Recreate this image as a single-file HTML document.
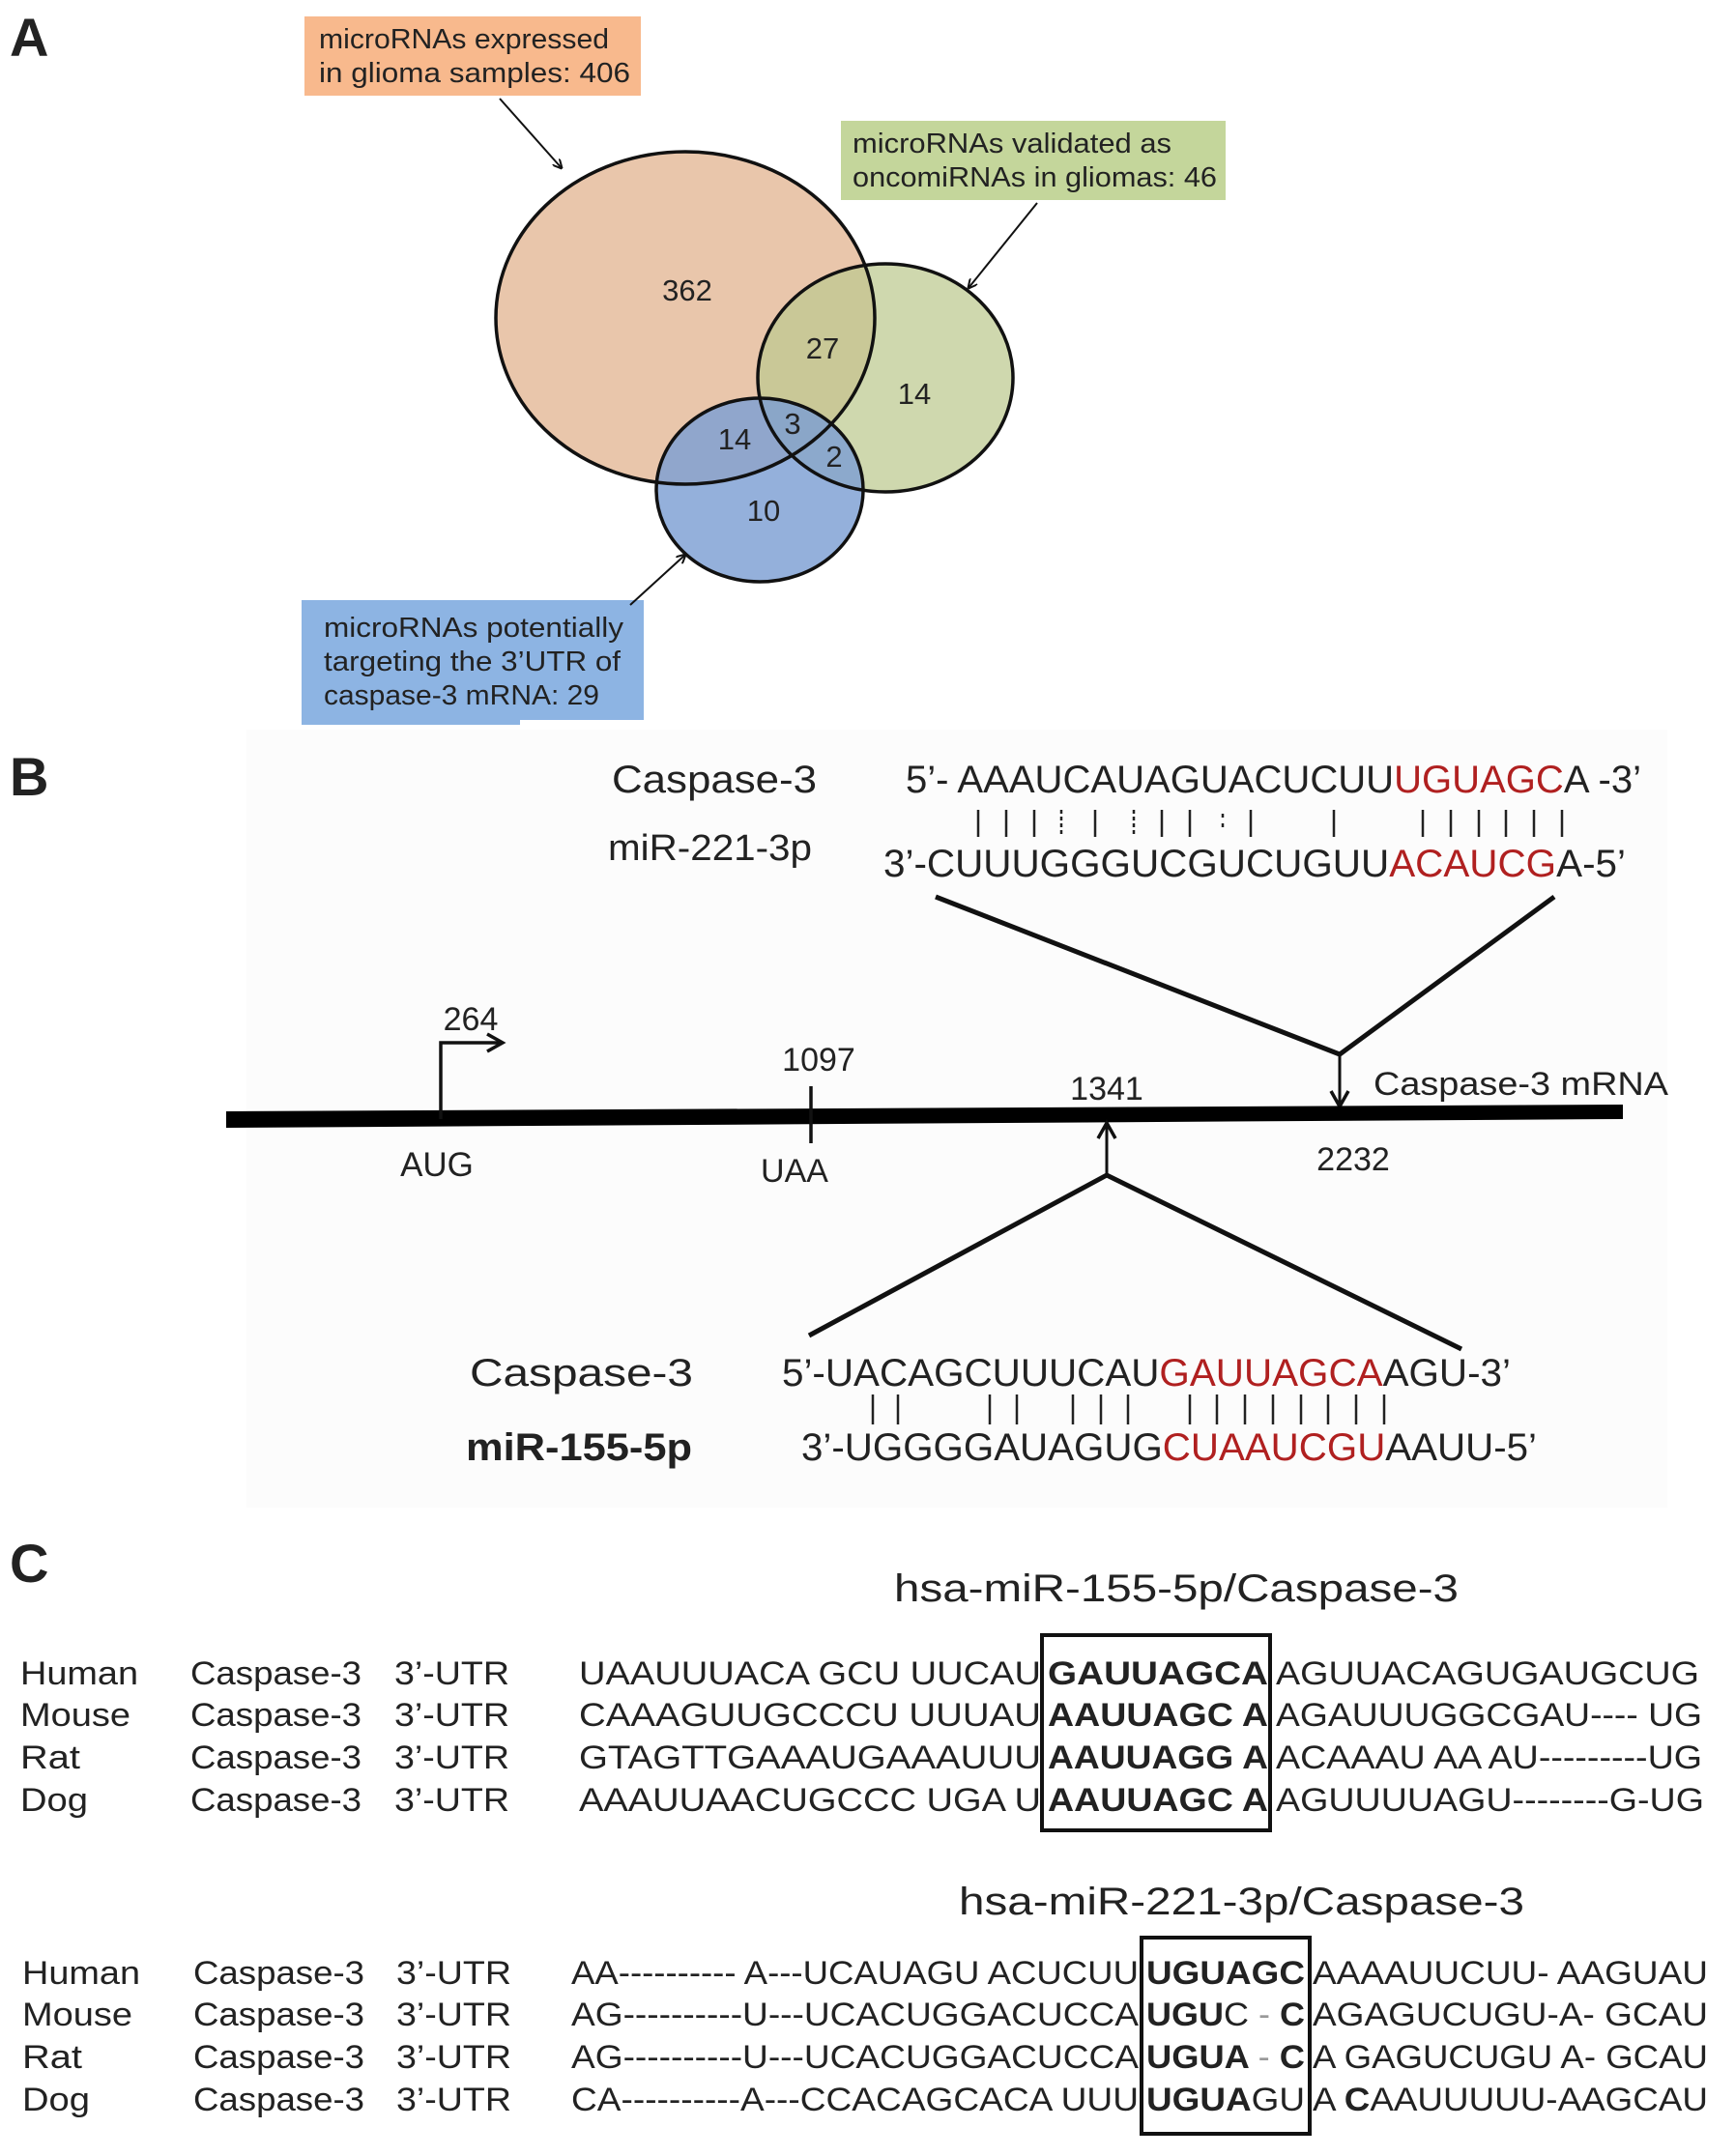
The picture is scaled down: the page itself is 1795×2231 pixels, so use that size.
<!DOCTYPE html>
<html><head><meta charset="utf-8"><style>
html,body{margin:0;padding:0;background:#fff}
svg{display:block}
text{font-family:"Liberation Sans",sans-serif;fill:#222}
.n{font-size:31px}
.b{font-weight:bold}
.r{fill:#b02020}
</style></head><body>
<svg width="1795" height="2231" viewBox="0 0 1795 2231" xmlns="http://www.w3.org/2000/svg">
<defs>
<marker id="ah" markerWidth="10" markerHeight="10" refX="9" refY="5" orient="auto" markerUnits="userSpaceOnUse"><path d="M0,0 L10,5 L0,10" fill="none" stroke="#111" stroke-width="2"/></marker>
<marker id="ah2" markerWidth="22" markerHeight="22" refX="18" refY="11" orient="auto" markerUnits="userSpaceOnUse"><path d="M2,2 L18,11 L2,20" fill="none" stroke="#111" stroke-width="3.5"/></marker>
</defs>
<!-- Panel A -->
<text x="10" y="58" class="b" font-size="56">A</text>
<rect x="315" y="17" width="348" height="82" fill="#f8b98d"/>
<text x="330" y="50" font-size="29" textLength="300" lengthAdjust="spacingAndGlyphs">microRNAs expressed</text>
<text x="330" y="85" font-size="29" textLength="322" lengthAdjust="spacingAndGlyphs">in glioma samples: 406</text>
<line x1="517" y1="102" x2="581" y2="174" stroke="#111" stroke-width="2" marker-end="url(#ah)"/>
<rect x="870" y="125" width="398" height="82" fill="#c4d69b"/>
<text x="882" y="158" font-size="29" textLength="330" lengthAdjust="spacingAndGlyphs">microRNAs validated as</text>
<text x="882" y="193" font-size="29" textLength="377" lengthAdjust="spacingAndGlyphs">oncomiRNAs in gliomas: 46</text>
<line x1="1073" y1="210" x2="1002" y2="298" stroke="#111" stroke-width="2" marker-end="url(#ah)"/>
<ellipse cx="709" cy="329" rx="196" ry="172" fill="#e9c6ab" stroke="none"/>
<ellipse cx="916" cy="391" rx="132" ry="118" fill="#bcc98f" fill-opacity="0.72" stroke="none"/>
<ellipse cx="786" cy="507" rx="107" ry="95" fill="#7d9fd3" fill-opacity="0.82" stroke="none"/>
<ellipse cx="709" cy="329" rx="196" ry="172" fill="none" stroke="#111" stroke-width="3.5"/>
<ellipse cx="916" cy="391" rx="132" ry="118" fill="none" stroke="#111" stroke-width="3.5"/>
<ellipse cx="786" cy="507" rx="107" ry="95" fill="none" stroke="#111" stroke-width="3.5"/>
<g class="n" text-anchor="middle">
<text x="711" y="311">362</text>
<text x="851" y="371">27</text>
<text x="946" y="418">14</text>
<text x="820" y="449">3</text>
<text x="760" y="465">14</text>
<text x="863" y="483">2</text>
<text x="790" y="539">10</text>
</g>
<rect x="312" y="621" width="354" height="124" fill="#8db4e3"/>
<rect x="312" y="740" width="226" height="10" fill="#8db4e3"/>
<text x="335" y="659" font-size="29" textLength="310" lengthAdjust="spacingAndGlyphs">microRNAs potentially</text>
<text x="335" y="694" font-size="29" textLength="307" lengthAdjust="spacingAndGlyphs">targeting the 3’UTR of</text>
<text x="335" y="729" font-size="29" textLength="285" lengthAdjust="spacingAndGlyphs">caspase-3 mRNA: 29</text>
<line x1="652" y1="626" x2="709" y2="574" stroke="#111" stroke-width="2" marker-end="url(#ah)"/>
<!-- Panel B -->
<rect x="255" y="755" width="1470" height="805" fill="#fcfcfc"/>
<text x="10" y="823" class="b" font-size="56">B</text>
<text x="633" y="820" font-size="40" textLength="212" lengthAdjust="spacingAndGlyphs">Caspase-3</text>
<text x="937" y="820" font-size="40" textLength="761" lengthAdjust="spacingAndGlyphs">5’- AAAUCAUAGUACUCUU<tspan class="r">UGUAGC</tspan>A -3’</text>
<g stroke="#222" stroke-width="2.5">
<line x1="1012" y1="838" x2="1012" y2="866"/><line x1="1041" y1="838" x2="1041" y2="866"/><line x1="1070" y1="838" x2="1070" y2="866"/>
<line x1="1098" y1="838" x2="1098" y2="866" stroke-dasharray="4,3"/><line x1="1133" y1="838" x2="1133" y2="866"/>
<line x1="1173" y1="838" x2="1173" y2="866" stroke-dasharray="4,3"/><line x1="1202" y1="838" x2="1202" y2="866"/><line x1="1231" y1="838" x2="1231" y2="866"/>
<line x1="1265" y1="842" x2="1265" y2="862" stroke-dasharray="4,6"/><line x1="1294" y1="838" x2="1294" y2="866"/>
<line x1="1380" y1="838" x2="1380" y2="866"/><line x1="1472" y1="838" x2="1472" y2="866"/><line x1="1501" y1="838" x2="1501" y2="866"/>
<line x1="1530" y1="838" x2="1530" y2="866"/><line x1="1558" y1="838" x2="1558" y2="866"/><line x1="1587" y1="838" x2="1587" y2="866"/><line x1="1616" y1="838" x2="1616" y2="866"/>
</g>
<text x="629" y="890" font-size="38" textLength="211" lengthAdjust="spacingAndGlyphs">miR-221-3p</text>
<text x="914" y="907" font-size="40" textLength="768" lengthAdjust="spacingAndGlyphs">3’-CUUUGGGUCGUCUGUU<tspan class="r">ACAUCG</tspan>A-5’</text>
<polyline points="968,928 1386,1091 1608,928" fill="none" stroke="#111" stroke-width="5"/>
<line x1="1386" y1="1091" x2="1386" y2="1145" stroke="#111" stroke-width="3" marker-end="url(#ah2)"/>
<polygon points="234,1150 1679,1143 1679,1158 234,1167" fill="#000"/>
<text x="487" y="1066" font-size="34" text-anchor="middle">264</text>
<polyline points="456,1158 456,1079 520,1079" fill="none" stroke="#111" stroke-width="3.5" marker-end="url(#ah2)"/>
<text x="452" y="1217" font-size="35" text-anchor="middle">AUG</text>
<text x="847" y="1108" font-size="34" text-anchor="middle">1097</text>
<line x1="839" y1="1124" x2="839" y2="1183" stroke="#111" stroke-width="3.5"/>
<text x="822" y="1223" font-size="34" text-anchor="middle">UAA</text>
<text x="1145" y="1138" font-size="34" text-anchor="middle">1341</text>
<polyline points="837,1382 1145,1216 1512,1396" fill="none" stroke="#111" stroke-width="5"/>
<line x1="1145" y1="1216" x2="1145" y2="1162" stroke="#111" stroke-width="3" marker-end="url(#ah2)"/>
<text x="1421" y="1133" font-size="34" textLength="305" lengthAdjust="spacingAndGlyphs">Caspase-3  mRNA</text>
<text x="1400" y="1211" font-size="34" text-anchor="middle">2232</text>
<text x="486" y="1434" font-size="40" textLength="231" lengthAdjust="spacingAndGlyphs">Caspase-3</text>
<text x="809" y="1434" font-size="40" textLength="754" lengthAdjust="spacingAndGlyphs">5’-UACAGCUUUCAU<tspan class="r">GAUUAGCA</tspan>AGU-3’</text>
<g stroke="#222" stroke-width="2.5">
<line x1="903" y1="1443" x2="903" y2="1474"/><line x1="929" y1="1443" x2="929" y2="1474"/><line x1="1024" y1="1443" x2="1024" y2="1474"/><line x1="1052" y1="1443" x2="1052" y2="1474"/>
<line x1="1110" y1="1443" x2="1110" y2="1474"/><line x1="1139" y1="1443" x2="1139" y2="1474"/><line x1="1167" y1="1443" x2="1167" y2="1474"/>
<line x1="1231" y1="1443" x2="1231" y2="1474"/><line x1="1259" y1="1443" x2="1259" y2="1474"/><line x1="1288" y1="1443" x2="1288" y2="1474"/><line x1="1317" y1="1443" x2="1317" y2="1474"/>
<line x1="1346" y1="1443" x2="1346" y2="1474"/><line x1="1374" y1="1443" x2="1374" y2="1474"/><line x1="1403" y1="1443" x2="1403" y2="1474"/><line x1="1432" y1="1443" x2="1432" y2="1474"/>
</g>
<text x="482" y="1511" font-size="40" class="b" textLength="234" lengthAdjust="spacingAndGlyphs">miR-155-5p</text>
<text x="829" y="1511" font-size="40" textLength="761" lengthAdjust="spacingAndGlyphs">3’-UGGGGAUAGUG<tspan class="r">CUAAUCGU</tspan>AAUU-5’</text>
<!-- Panel C -->
<text x="10" y="1637" class="b" font-size="56">C</text>
<text x="925" y="1657" font-size="40" textLength="584" lengthAdjust="spacingAndGlyphs">hsa-miR-155-5p/Caspase-3</text>
<g font-size="34" transform="translate(0,5)">
<text x="21" y="1738" textLength="122" lengthAdjust="spacingAndGlyphs">Human</text>
<text x="21" y="1781" textLength="114" lengthAdjust="spacingAndGlyphs">Mouse</text>
<text x="21" y="1825" textLength="62" lengthAdjust="spacingAndGlyphs">Rat</text>
<text x="21" y="1869" textLength="70" lengthAdjust="spacingAndGlyphs">Dog</text>
<text x="197" y="1738" textLength="177" lengthAdjust="spacingAndGlyphs">Caspase-3</text>
<text x="197" y="1781" textLength="177" lengthAdjust="spacingAndGlyphs">Caspase-3</text>
<text x="197" y="1825" textLength="177" lengthAdjust="spacingAndGlyphs">Caspase-3</text>
<text x="197" y="1869" textLength="177" lengthAdjust="spacingAndGlyphs">Caspase-3</text>
<text x="408" y="1738" textLength="119" lengthAdjust="spacingAndGlyphs">3’-UTR</text>
<text x="408" y="1781" textLength="119" lengthAdjust="spacingAndGlyphs">3’-UTR</text>
<text x="408" y="1825" textLength="119" lengthAdjust="spacingAndGlyphs">3’-UTR</text>
<text x="408" y="1869" textLength="119" lengthAdjust="spacingAndGlyphs">3’-UTR</text>
<text x="599" y="1738" textLength="478" lengthAdjust="spacingAndGlyphs">UAAUUUACA GCU UUCAU</text>
<text x="599" y="1781" textLength="478" lengthAdjust="spacingAndGlyphs">CAAAGUUGCCCU UUUAU</text>
<text x="599" y="1825" textLength="478" lengthAdjust="spacingAndGlyphs">GTAGTTGAAAUGAAAUUU</text>
<text x="599" y="1869" textLength="478" lengthAdjust="spacingAndGlyphs">AAAUUAACUGCCC UGA U</text>
<text x="1084" y="1738" class="b" textLength="228" lengthAdjust="spacingAndGlyphs">GAUUAGCA</text>
<text x="1084" y="1781" class="b" textLength="228" lengthAdjust="spacingAndGlyphs">AAUUAGC A</text>
<text x="1084" y="1825" class="b" textLength="228" lengthAdjust="spacingAndGlyphs">AAUUAGG A</text>
<text x="1084" y="1869" class="b" textLength="228" lengthAdjust="spacingAndGlyphs">AAUUAGC A</text>
<text x="1320" y="1738" textLength="438" lengthAdjust="spacingAndGlyphs">AGUUACAGUGAUGCUG</text>
<text x="1320" y="1781" textLength="441" lengthAdjust="spacingAndGlyphs">AGAUUUGGCGAU---- UG</text>
<text x="1320" y="1825" textLength="441" lengthAdjust="spacingAndGlyphs">ACAAAU AA AU---------UG</text>
<text x="1320" y="1869" textLength="443" lengthAdjust="spacingAndGlyphs">AGUUUUAGU--------G-UG</text>
</g>
<rect x="1078" y="1692" width="236" height="202" fill="none" stroke="#111" stroke-width="4"/>
<text x="992" y="1981" font-size="40" textLength="585" lengthAdjust="spacingAndGlyphs">hsa-miR-221-3p/Caspase-3</text>
<g font-size="34" transform="translate(0,5)">
<text x="23" y="2048" textLength="122" lengthAdjust="spacingAndGlyphs">Human</text>
<text x="23" y="2091" textLength="114" lengthAdjust="spacingAndGlyphs">Mouse</text>
<text x="23" y="2135" textLength="62" lengthAdjust="spacingAndGlyphs">Rat</text>
<text x="23" y="2179" textLength="70" lengthAdjust="spacingAndGlyphs">Dog</text>
<text x="200" y="2048" textLength="177" lengthAdjust="spacingAndGlyphs">Caspase-3</text>
<text x="200" y="2091" textLength="177" lengthAdjust="spacingAndGlyphs">Caspase-3</text>
<text x="200" y="2135" textLength="177" lengthAdjust="spacingAndGlyphs">Caspase-3</text>
<text x="200" y="2179" textLength="177" lengthAdjust="spacingAndGlyphs">Caspase-3</text>
<text x="410" y="2048" textLength="119" lengthAdjust="spacingAndGlyphs">3’-UTR</text>
<text x="410" y="2091" textLength="119" lengthAdjust="spacingAndGlyphs">3’-UTR</text>
<text x="410" y="2135" textLength="119" lengthAdjust="spacingAndGlyphs">3’-UTR</text>
<text x="410" y="2179" textLength="119" lengthAdjust="spacingAndGlyphs">3’-UTR</text>
<text x="591" y="2048" textLength="587" lengthAdjust="spacingAndGlyphs">AA---------- A---UCAUAGU ACUCUU</text>
<text x="591" y="2091" textLength="587" lengthAdjust="spacingAndGlyphs">AG----------U---UCACUGGACUCCA</text>
<text x="591" y="2135" textLength="587" lengthAdjust="spacingAndGlyphs">AG----------U---UCACUGGACUCCA</text>
<text x="591" y="2179" textLength="587" lengthAdjust="spacingAndGlyphs">CA----------A---CCACAGCACA UUU</text>
<text x="1186" y="2048" class="b" textLength="164" lengthAdjust="spacingAndGlyphs">UGUAGC</text>
<text x="1186" y="2091" class="b" textLength="164" lengthAdjust="spacingAndGlyphs">UGU<tspan font-weight="normal">C</tspan> <tspan font-weight="normal" fill="#999">-</tspan> C</text>
<text x="1186" y="2135" class="b" textLength="164" lengthAdjust="spacingAndGlyphs">UGUA <tspan font-weight="normal" fill="#999">-</tspan> C</text>
<text x="1186" y="2179" textLength="164" lengthAdjust="spacingAndGlyphs"><tspan font-weight="bold">UGUA</tspan>GU</text>
<text x="1358" y="2048" textLength="409" lengthAdjust="spacingAndGlyphs">AAAAUUCUU- AAGUAU</text>
<text x="1358" y="2091" textLength="409" lengthAdjust="spacingAndGlyphs">AGAGUCUGU-A- GCAU</text>
<text x="1358" y="2135" textLength="409" lengthAdjust="spacingAndGlyphs">A GAGUCUGU A- GCAU</text>
<text x="1358" y="2179" textLength="409" lengthAdjust="spacingAndGlyphs">A <tspan font-weight="bold">C</tspan>AAUUUUU-AAGCAU</text>
</g>
<rect x="1181" y="2005" width="174" height="203" fill="none" stroke="#111" stroke-width="4"/>
</svg>
</body></html>
